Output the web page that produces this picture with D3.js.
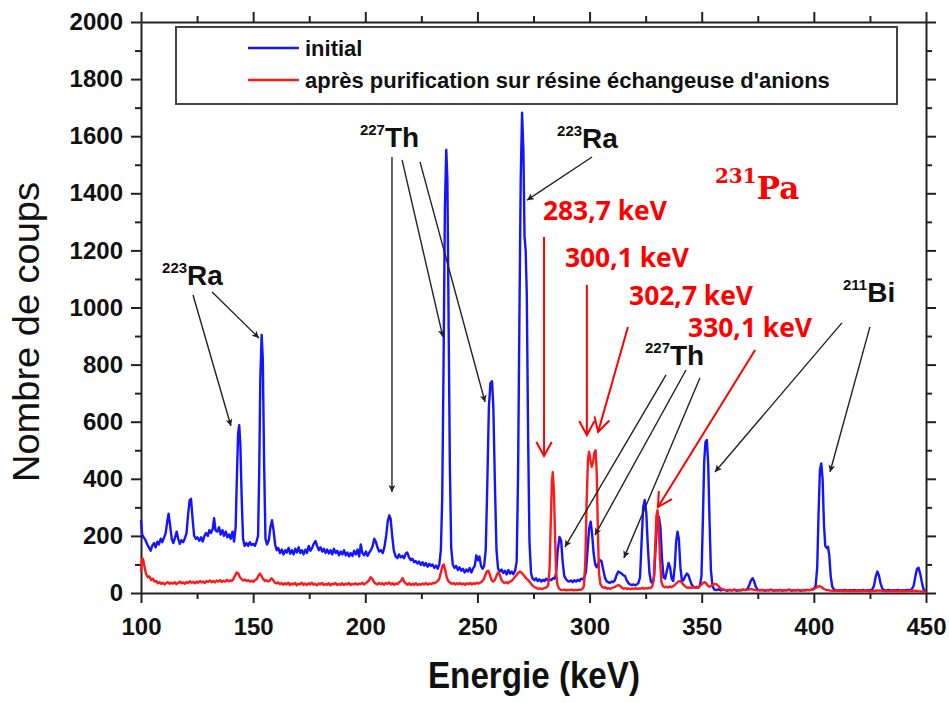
<!doctype html>
<html lang="fr">
  <head>
    <meta charset="utf-8">
    <script src="https://cdn.jsdelivr.net/npm/d3@7/dist/d3.min.js"></script>
    <style>
      body {margin:0; background:#fff}
      svg {display:block}
      .tick text {font-family:"Liberation Sans", Arial, sans-serif; font-weight:bold; font-size:24px; fill:#111}
      .axis path, .axis line {stroke:#222; stroke-width:2}
      .lbl {font-family:"Liberation Sans", Arial, sans-serif; font-weight:bold; fill:#111}
      .kev {font-family:"Open Sans", "Liberation Sans", sans-serif; font-weight:bold; fill:#ff0000}
    </style>
    <title>Spectre gamma 231Pa</title>
  </head>
  <body>
    <script>
      // spectre initial : [energie keV, coups]
      let initialSpectrum = [[100,255],[100.5,205],[101.2,195],[102,185],[102.8,170],[103.5,160],[104.3,148],[105,165],[105.8,175],[106.5,160],[107.3,180],[108,170],[108.8,190],[109.5,178],[110.3,195],[111,210],[111.7,250],[112.3,278],[113,235],[113.7,190],[114.4,175],[115.2,195],[115.9,215],[116.6,190],[117.3,172],[118,185],[118.8,178],[119.5,190],[120.3,210],[121,275],[121.7,325],[122.3,330],[123,260],[123.7,200],[124.5,190],[125.2,195],[126,183],[126.8,195],[127.5,180],[128.3,200],[129,210],[129.8,200],[130.5,220],[131.2,210],[132,225],[132.6,262],[133.2,220],[134,215],[134.8,230],[135.5,205],[136.3,220],[137,200],[137.8,215],[138.5,195],[139.3,205],[140,190],[140.8,215],[141.5,180],[142.2,230],[142.8,420],[143.3,560],[143.8,588],[144.3,520],[144.9,330],[145.5,190],[146.2,165],[147,175],[147.8,165],[148.5,178],[149.3,168],[150,172],[150.8,165],[151.5,180],[152.2,200],[152.7,420],[153.2,750],[153.8,904],[154.3,820],[154.9,450],[155.5,190],[156.2,170],[157,185],[157.7,230],[158.4,255],[159.1,220],[159.8,170],[160.5,150],[161.2,158],[162,140],[162.8,152],[163.5,135],[164.3,150],[165,142],[165.8,158],[166.5,138],[167.3,150],[168,135],[168.8,155],[169.5,142],[170.3,160],[171,140],[171.8,150],[172.5,135],[173.3,152],[174,140],[174.8,165],[175.5,148],[176.3,158],[177,172],[177.8,182],[178.5,165],[179.3,150],[180,160],[180.8,145],[181.5,155],[182.3,140],[183,152],[183.8,138],[184.5,150],[185.3,135],[186,155],[186.8,140],[187.5,148],[188.3,132],[189,145],[189.8,135],[190.5,150],[191.3,132],[192,142],[192.8,128],[193.5,140],[194.3,130],[195,148],[195.8,135],[196.5,152],[197.3,128],[198,170],[198.7,140],[199.5,132],[200.3,145],[201,130],[201.8,142],[202.5,150],[203.3,165],[204,190],[204.7,180],[205.4,160],[206.2,145],[207,150],[207.8,140],[208.5,160],[209.3,200],[210,250],[210.7,272],[211.3,260],[212,200],[212.7,150],[213.5,128],[214.3,122],[215,135],[215.8,125],[216.5,130],[217.3,122],[218,138],[218.7,142],[219.5,125],[220.3,115],[221,120],[221.8,108],[222.5,112],[223.3,103],[224,110],[224.8,98],[225.5,108],[226.3,96],[227,105],[227.8,92],[228.5,102],[229.3,95],[230,100],[230.8,88],[231.5,96],[232.3,85],[233,100],[233.7,150],[234.3,330],[234.9,800],[235.5,1350],[236.1,1552],[236.6,1450],[237.1,1000],[237.7,450],[238.3,160],[239,100],[239.8,88],[240.5,95],[241.3,80],[242,90],[242.8,78],[243.5,85],[244.3,72],[245,82],[245.8,75],[246.5,88],[247.3,72],[248,85],[248.8,95],[249.5,132],[250.2,115],[250.9,128],[251.6,95],[252.3,85],[253,95],[253.7,150],[254.4,380],[255.1,650],[255.8,735],[256.5,742],[257.1,650],[257.8,380],[258.5,150],[259.2,85],[260,75],[260.8,82],[261.5,70],[262.3,78],[263,65],[263.8,80],[264.5,68],[265.3,75],[266,66],[266.8,78],[267.5,110],[268.1,400],[268.7,950],[269.3,1450],[269.9,1682],[270.5,1550],[271,1250],[271.5,1200],[272,1050],[272.6,550],[273.2,180],[273.9,70],[274.6,50],[275.4,45],[276.1,52],[276.9,42],[277.6,48],[278.4,40],[279.1,46],[279.9,42],[280.6,50],[281.4,44],[282.1,48],[282.9,45],[283.6,52],[284.4,50],[285.1,70],[285.8,150],[286.6,196],[287.3,185],[288,110],[288.7,60],[289.5,48],[290.2,42],[291,40],[291.7,44],[292.5,38],[293.2,45],[294,40],[294.7,46],[295.5,42],[296.2,50],[297,48],[297.7,55],[298.4,75],[299.1,150],[299.8,225],[300.5,250],[301.1,210],[301.8,140],[302.5,100],[303.2,90],[303.9,105],[304.6,115],[305.3,112],[306,85],[306.8,55],[307.5,42],[308.3,38],[309,35],[309.8,40],[310.5,38],[311.3,45],[312,62],[312.8,75],[313.5,72],[314.3,68],[315,62],[315.8,60],[316.5,45],[317.3,35],[318,30],[318.8,28],[319.5,30],[320.3,27],[321,30],[321.8,35],[322.5,55],[323.2,180],[323.9,300],[324.6,326],[325.3,280],[326,160],[326.7,70],[327.4,38],[328.1,35],[328.8,60],[329.5,170],[330.2,255],[330.9,267],[331.6,230],[332.3,120],[333,55],[333.7,50],[334.4,75],[335.2,105],[335.9,90],[336.6,50],[337.3,42],[338,95],[338.6,180],[339.2,215],[339.8,190],[340.5,90],[341.2,42],[341.9,45],[342.6,58],[343.4,68],[344.1,62],[344.8,45],[345.5,30],[346.3,22],[347,18],[347.8,20],[348.5,18],[349.2,25],[349.9,60],[350.5,250],[351.1,460],[351.7,530],[352.3,536],[352.9,450],[353.5,250],[354.1,80],[354.8,25],[355.6,12],[356.5,10],[357.5,13],[358.5,9],[359.5,12],[360.5,10],[361.5,8],[362.5,11],[363.5,9],[364.5,12],[365.5,8],[366.5,10],[367.5,9],[368.5,12],[369.5,10],[370.5,16],[371.3,30],[372,45],[372.7,52],[373.4,40],[374.1,22],[374.9,12],[376,9],[377,11],[378,8],[379,10],[380,9],[381,12],[382,8],[383,10],[384,9],[385,11],[386,8],[387,10],[388,9],[389,12],[390,8],[391,10],[392,9],[393,11],[394,8],[395,10],[396,9],[397,11],[398,10],[399,12],[400,15],[400.8,25],[401.5,90],[402.1,280],[402.7,430],[403.3,454],[403.9,400],[404.5,240],[405.1,165],[405.7,158],[406.3,162],[406.9,130],[407.5,60],[408.2,22],[409,12],[410,10],[411,8],[412,10],[413,9],[414,11],[415,8],[416,10],[417,9],[418,11],[419,8],[420,10],[421,9],[422,11],[423,8],[424,10],[425,9],[426,12],[426.8,25],[427.5,55],[428.3,75],[429,62],[429.7,35],[430.5,15],[431.5,10],[432.5,9],[433.5,11],[434.5,8],[435.5,10],[436.5,9],[437.5,11],[438.5,8],[439.5,10],[440.5,9],[441.5,11],[442.5,10],[443.5,12],[444.5,25],[445.3,60],[446,85],[446.7,88],[447.4,68],[448.1,40],[448.8,15],[449.5,8],[450,5]];

      // apres purification sur resine
      let purifiedSpectrum = [[100,75],[100.4,118],[100.9,120],[101.5,95],[102.2,68],[103,55],[103.8,58],[104.5,45],[105.3,50],[106,40],[106.8,42],[107.5,34],[108.3,38],[109,32],[109.8,36],[110.5,30],[111.3,35],[112,38],[112.8,32],[113.5,36],[114.3,33],[115,38],[115.8,31],[116.5,35],[117.3,40],[118,34],[118.8,37],[119.5,32],[120.3,38],[121,35],[121.8,41],[122.5,36],[123.3,39],[124,34],[124.8,40],[125.5,36],[126.3,42],[127,37],[127.8,40],[128.5,35],[129.3,42],[130,39],[130.8,44],[131.5,38],[132.3,42],[133,37],[133.8,44],[134.5,40],[135.3,45],[136,39],[136.8,43],[137.5,40],[138.3,46],[139,41],[139.8,44],[140.5,42],[141.3,50],[142,62],[142.7,72],[143.4,68],[144.1,55],[144.9,48],[145.6,44],[146.4,47],[147.1,42],[147.9,45],[148.6,40],[149.4,43],[150.1,39],[150.9,46],[151.6,48],[152.3,60],[153,68],[153.7,60],[154.4,50],[155.2,42],[155.9,45],[156.7,40],[157.4,44],[158.2,52],[158.9,45],[159.7,36],[160.4,34],[161.2,37],[161.9,31],[162.7,35],[163.4,29],[164.2,34],[164.9,30],[165.7,36],[166.4,28],[167.2,33],[167.9,30],[168.7,35],[169.4,27],[170.2,32],[170.9,30],[171.7,36],[172.4,29],[173.2,33],[173.9,28],[174.7,34],[175.4,30],[176.2,36],[176.9,29],[177.7,32],[178.4,27],[179.2,33],[179.9,30],[180.7,35],[181.4,28],[182.2,31],[182.9,29],[183.7,34],[184.4,27],[185.2,32],[185.9,30],[186.7,35],[187.4,28],[188.2,31],[188.9,29],[189.7,34],[190.4,28],[191.2,33],[191.9,30],[192.7,35],[193.4,28],[194.2,32],[194.9,30],[195.7,34],[196.4,29],[197.2,33],[197.9,31],[198.7,36],[199.4,30],[200.2,34],[200.9,38],[201.7,45],[202.4,55],[203.1,50],[203.9,38],[204.6,33],[205.4,30],[206.1,35],[206.9,31],[207.6,34],[208.4,29],[209.1,35],[209.9,32],[210.6,37],[211.4,30],[212.1,34],[212.9,29],[213.6,33],[214.4,31],[215.1,38],[215.9,42],[216.6,52],[217.3,40],[218.1,33],[218.8,29],[219.6,34],[220.3,28],[221.1,32],[221.8,29],[222.6,34],[223.3,28],[224.1,31],[224.8,29],[225.6,33],[226.3,30],[227.1,35],[227.8,29],[228.6,33],[229.3,31],[230.1,35],[230.8,34],[231.6,38],[232.3,42],[233,50],[233.7,72],[234.4,95],[235,100],[235.6,82],[236.3,55],[237,42],[237.8,36],[238.5,32],[239.3,35],[240,30],[240.8,34],[241.5,31],[242.3,35],[243,30],[243.8,33],[244.5,29],[245.3,34],[246,31],[246.8,35],[247.5,30],[248.3,34],[249,32],[249.8,36],[250.5,33],[251.3,37],[252,40],[252.8,48],[253.5,62],[254.2,75],[254.9,78],[255.6,62],[256.3,45],[257,40],[257.8,46],[258.5,60],[259.2,72],[259.9,65],[260.6,48],[261.4,38],[262.1,35],[262.9,38],[263.6,34],[264.4,40],[265.1,42],[265.9,48],[266.6,55],[267.4,62],[268.1,70],[268.9,75],[269.6,72],[270.4,65],[271.1,58],[271.9,50],[272.6,45],[273.4,38],[274.1,30],[274.9,24],[275.6,20],[276.4,17],[277.1,15],[277.9,16],[278.6,14],[279.4,16],[280.1,18],[280.9,20],[281.6,28],[282.2,90],[282.7,250],[283.2,390],[283.6,423],[284.1,360],[284.6,200],[285.1,70],[285.7,28],[286.4,15],[287.2,11],[288,10],[288.8,12],[289.6,9],[290.4,11],[291.2,10],[292,12],[292.8,9],[293.6,11],[294.4,10],[295.2,12],[296,11],[296.8,14],[297.5,25],[298.1,110],[298.7,320],[299.3,470],[299.8,495],[300.4,465],[301,442],[301.6,460],[302.1,490],[302.7,500],[303.2,420],[303.7,220],[304.2,70],[304.8,32],[305.5,22],[306.3,18],[307,20],[307.8,15],[308.5,17],[309.3,14],[310,18],[310.8,20],[311.5,22],[312.3,26],[313,28],[313.7,24],[314.5,18],[315.2,15],[316,17],[316.7,14],[317.5,16],[318.2,13],[319,16],[319.7,14],[320.5,17],[321.2,14],[322,16],[322.7,15],[323.5,18],[324.2,15],[325,17],[325.7,16],[326.5,18],[327.2,17],[327.9,22],[328.6,45],[329.2,150],[329.8,270],[330.3,290],[330.8,240],[331.4,120],[332,40],[332.7,24],[333.5,20],[334.2,22],[335,19],[335.7,23],[336.5,20],[337.2,24],[338,28],[338.7,34],[339.5,40],[340.2,42],[341,38],[341.7,30],[342.5,24],[343.2,20],[344,18],[344.7,20],[345.5,17],[346.2,21],[347,18],[347.7,22],[348.5,20],[349.2,25],[350,30],[350.7,36],[351.4,38],[352.1,32],[352.9,24],[353.6,22],[354.4,26],[355.1,30],[355.9,32],[356.6,30],[357.4,25],[358.1,18],[358.9,14],[359.8,12],[361,10],[362,11],[363,9],[364,10],[365,11],[366,9],[367,10],[368,12],[369,10],[370,11],[371,12],[372,14],[373,12],[374,10],[375,9],[376,11],[377,10],[378,9],[380,11],[382,9],[384,10],[386,9],[388,11],[390,9],[392,10],[394,9],[396,11],[398,10],[399.5,12],[400.5,16],[401.5,22],[402.5,24],[403.5,20],[404.5,14],[405.5,11],[407,9],[409,8],[411,9],[413,7],[415,8],[417,7],[419,8],[421,7],[423,8],[425,6],[427,8],[429,9],[431,7],[433,6],[435,7],[437,6],[439,7],[441,6],[443,7],[445,8],[447,6],[449,5],[450,5]];

      let xTicks = [100, 150, 200, 250, 300, 350, 400, 450];
      let xMinor = [125, 175, 225, 275, 325, 375, 425];
      let yTicks = [0, 200, 400, 600, 800, 1000, 1200, 1400, 1600, 1800, 2000];
      let yMinor = [100, 300, 500, 700, 900, 1100, 1300, 1500, 1700, 1900];

      let legendNames = ["initial", "après purification sur résine échangeuse d'anions"];

      // annotations, in (keV, coups): from -> to
      let blackArrows = [[123.2,1044,140.1,585],[131.7,1054,152.6,893],[211.9,1527,211.9,354],[216.4,1517,234.6,897],[224.4,1510,253.4,669],[301.1,1527,272.1,1376],[334.1,764,289.0,161],[343.0,781,302.4,203],[349.2,753,315.3,123],[412.5,946,355.9,424],[425.0,932,407.2,424]];
      let redArrows = [[279.7,1247,279.7,480],[298.8,1079,298.8,553],[317.1,932,303.8,564],[373.8,851,330.5,301]];
      let isotopes = [["223","Ra",109.4,1079],["227","Th",197.6,1562],["223","Ra",285.5,1559],["227","Th",324.7,798],["211","Bi",413.0,1019]];
      let energies = [["283,7 keV",279.2,1306],["300,1 keV",289.0,1142],["302,7 keV",317.6,1009],["330,1 keV",343.9,897]];

      let W = 949, H = 703;
      let x = d3.scaleLinear().domain([100, 450]).range([141, 926]);
      let y = d3.scaleLinear().domain([0, 2000]).range([593, 22]);

      let svg = d3.select("body").append("svg").attr("width", W).attr("height", H);

      let defs = svg.append("defs");
      defs.append("marker").attr("id", "ah")
        .attr("viewBox", "0 0 10 10").attr("refX", 10).attr("refY", 5)
        .attr("markerWidth", 11).attr("markerHeight", 7)
        .attr("markerUnits", "userSpaceOnUse").attr("orient", "auto")
        .append("path").attr("d", "M0,0 L10,5 L0,10 L2.5,5 Z").attr("fill", "#222");

      // axes
      function drawAxis(axisFn, vals, minor, tr, fmt) {
        let g = svg.append("g").attr("class", "axis").attr("transform", tr);
        g.call(axisFn.tickValues(vals).tickSize(10).tickSizeOuter(0).tickFormat(fmt));
        let mg = svg.append("g").attr("class", "axis").attr("transform", tr);
        mg.call(axisFn.tickValues(minor).tickSize(6).tickSizeOuter(0).tickFormat(""));
        mg.select(".domain").remove();
        return g;
      }
      drawAxis(d3.axisBottom(x).tickPadding(15), xTicks, xMinor, "translate(0,593)", d3.format("d"));
      drawAxis(d3.axisTop(x), xTicks, xMinor, "translate(0,22)", "");
      drawAxis(d3.axisLeft(y).tickPadding(8), yTicks, yMinor, "translate(141,0)", d3.format("d"));
      drawAxis(d3.axisRight(y), yTicks, yMinor, "translate(926,0)", "");

      // legend
      svg.append("rect").attr("x", 176).attr("y", 27).attr("width", 721).attr("height", 77)
        .attr("fill", "#fff").attr("stroke", "#444").attr("stroke-width", 2);
      let legendColors = ["#1414ff", "#ff1a1a"];
      legendNames.forEach((n, i) => {
        let ly = 48 + i * 32;
        svg.append("line").attr("x1", 248).attr("x2", 299).attr("y1", ly).attr("y2", ly)
          .attr("stroke", legendColors[i]).attr("stroke-width", 2.5);
        svg.append("text").attr("class", "lbl").attr("x", 305).attr("y", ly + 8)
          .attr("font-size", "22px").text(n);
      });

      // spectra
      let line = d3.line().x(d => x(d[0])).y(d => y(d[1]));
      svg.append("path").datum(initialSpectrum).attr("d", line)
        .attr("fill", "none").attr("stroke", legendColors[0]).attr("stroke-width", 2.4).attr("stroke-linejoin", "round");
      svg.append("path").datum(purifiedSpectrum).attr("d", line)
        .attr("fill", "none").attr("stroke", legendColors[1]).attr("stroke-width", 2.4).attr("stroke-linejoin", "round");

      // black arrows
      blackArrows.forEach(a => {
        svg.append("line").attr("x1", x(a[0])).attr("y1", y(a[1])).attr("x2", x(a[2])).attr("y2", y(a[3]))
          .attr("stroke", "#222").attr("stroke-width", 1.4).attr("marker-end", "url(#ah)");
      });

      // red arrows with open heads
      redArrows.forEach(a => {
        let x1 = x(a[0]), y1 = y(a[1]), x2 = x(a[2]), y2 = y(a[3]);
        let ang = Math.atan2(y2 - y1, x2 - x1), L = 16, s = 0.5;
        svg.append("line").attr("x1", x1).attr("y1", y1).attr("x2", x2).attr("y2", y2)
          .attr("stroke", "#ff0000").attr("stroke-width", 2);
        let p1 = [x2 - L * Math.cos(ang - s), y2 - L * Math.sin(ang - s)];
        let p2 = [x2 - L * Math.cos(ang + s), y2 - L * Math.sin(ang + s)];
        svg.append("path").attr("d", "M" + p1 + "L" + x2 + "," + y2 + "L" + p2)
          .attr("fill", "none").attr("stroke", "#ff0000").attr("stroke-width", 2);
      });

      // isotope labels
      isotopes.forEach(t => {
        let tx = svg.append("text").attr("class", "lbl").attr("x", x(t[2])).attr("y", y(t[3]));
        tx.append("tspan").attr("font-size", "15px").attr("dy", -12).text(t[0]);
        tx.append("tspan").attr("font-size", "28px").attr("dy", 12).text(t[1]);
      });

      let pa = svg.append("text").attr("x", x(355.9)).attr("y", y(1380))
        .attr("font-family", "'DejaVu Serif', serif").attr("font-weight", "bold").attr("fill", "#ff0000");
      pa.append("tspan").attr("font-size", "20px").attr("dy", -16).text("231");
      pa.append("tspan").attr("font-size", "31px").attr("dy", 16).text("Pa");

      energies.forEach(t => {
        svg.append("text").attr("class", "kev").attr("x", x(t[1])).attr("y", y(t[2]))
          .attr("font-size", "26px").attr("textLength", 124).attr("lengthAdjust", "spacingAndGlyphs").text(t[0]);
      });

      // axis titles
      svg.append("text").attr("class", "lbl").attr("x", 534).attr("y", 688)
        .attr("text-anchor", "middle").attr("font-size", "36px")
        .attr("textLength", 212).attr("lengthAdjust", "spacingAndGlyphs").text("Energie (keV)");
      svg.append("text").attr("transform", "translate(39,332) rotate(-90)")
        .attr("text-anchor", "middle").attr("font-size", "36px")
        .attr("font-family", "'Liberation Sans', Arial, sans-serif").attr("fill", "#111")
        .attr("textLength", 300).attr("lengthAdjust", "spacingAndGlyphs").text("Nombre de coups");
    </script>
  </body>
</html>
